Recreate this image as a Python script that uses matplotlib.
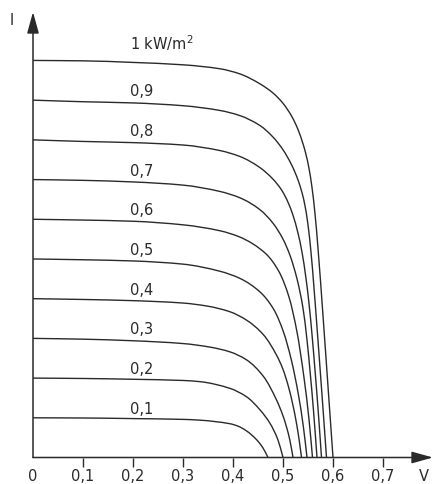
import numpy as np
import matplotlib
matplotlib.use('Agg')
import matplotlib.pyplot as plt
from matplotlib.path import Path
from matplotlib.patches import PathPatch

plt.rcParams.update({'font.family': 'DejaVu Sans', 'font.size': 10.5})

# I-V curves, V in volts, I in relative units (Isc at 1 kW/m2 = 10)
V_10 = [0, .1, .2, .3, .374, .414, .454, .48, .50, .518, .53, .54, .546, .552, .558, .564, .57, .58, .59, .60]
I_10 = [10, 9.99, 9.95, 9.89, 9.79, 9.66, 9.41, 9.18, 8.92, 8.58, 8.26, 7.90, 7.63, 7.28, 6.80, 6.14, 5.27, 3.57, 1.79, 0]
V_09 = [0, .1, .2, .3, .374, .414, .454, .48, .50, .518, .53, .538, .544, .55, .556, .562, .568, .574, .58, .587]
I_09 = [9.0, 8.96, 8.93, 8.86, 8.74, 8.61, 8.36, 8.07, 7.75, 7.35, 6.99, 6.67, 6.34, 5.86, 5.17, 4.27, 3.28, 2.26, 1.23, 0]
V_08 = [0, .1, .2, .3, .374, .414, .454, .48, .498, .51, .52, .53, .538, .546, .552, .558, .564, .57, .577]
I_08 = [8.0, 7.96, 7.93, 7.87, 7.73, 7.58, 7.30, 7.01, 6.72, 6.43, 6.10, 5.65, 5.17, 4.51, 3.88, 3.10, 2.20, 1.24, 0]
V_07 = [0, .1, .2, .3, .374, .414, .454, .48, .50, .514, .528, .54, .548, .555, .561, .568]
I_07 = [7.0, 6.98, 6.94, 6.86, 6.70, 6.54, 6.24, 5.90, 5.50, 5.09, 4.50, 3.76, 2.96, 2.05, 1.18, 0]
V_06 = [0, .1, .2, .3, .374, .414, .465, .492, .512, .528, .542, .552, .559]
I_06 = [6.0, 5.98, 5.95, 5.86, 5.71, 5.55, 5.14, 4.68, 4.04, 3.16, 2.01, 0.96, 0]
V_05 = [0, .1, .2, .3, .374, .414, .454, .481, .501, .517, .531, .541, .548]
I_05 = [5.0, 4.98, 4.95, 4.87, 4.69, 4.51, 4.17, 3.74, 3.16, 2.44, 1.57, 0.75, 0]
V_04 = [0, .1, .2, .3, .35, .394, .427, .461, .487, .50, .511, .52, .527, .533, .537]
I_04 = [4.0, 3.98, 3.95, 3.89, 3.81, 3.67, 3.46, 3.09, 2.58, 2.22, 1.78, 1.31, 0.86, 0.38, 0]
V_03 = [0, .1, .2, .3, .354, .394, .427, .461, .487, .50, .507, .514, .52]
I_03 = [3.0, 2.98, 2.94, 2.87, 2.78, 2.66, 2.46, 2.04, 1.45, 1.05, 0.77, 0.42, 0]
V_02 = [0, .1, .2, .3, .334, .394, .427, .454, .474, .49, .50]
I_02 = [2.0, 1.99, 1.97, 1.94, 1.91, 1.74, 1.53, 1.20, 0.86, 0.44, 0]
V_01 = [0, .1, .2, .3, .334, .394, .41, .427, .447, .46, .47]
I_01 = [1.0, 0.995, 0.98, 0.96, 0.94, 0.85, 0.79, 0.67, 0.45, 0.24, 0]

curves = [(V_10, I_10), (V_09, I_09), (V_08, I_08), (V_07, I_07), (V_06, I_06),
          (V_05, I_05), (V_04, I_04), (V_03, I_03), (V_02, I_02), (V_01, I_01)]
labels = ['0,9', '0,8', '0,7', '0,6', '0,5', '0,4', '0,3', '0,2', '0,1']

xticks = [0, 0.1, 0.2, 0.3, 0.4, 0.5, 0.6, 0.7]
xticklabels = ['0', '0,1', '0,2', '0,3', '0,4', '0,5', '0,6', '0,7']

ink = '#2a2a2a'


def smooth_path(v, i):
    # monotone cubic through the read points, drawn as bezier segments
    v = np.asarray(v, float)
    i = np.asarray(i, float)
    h = np.diff(v)
    d = np.diff(i) / h
    m = np.zeros_like(v)
    m[0], m[-1] = d[0], d[-1]
    for k in range(1, len(v) - 1):
        if d[k - 1] * d[k] <= 0:
            m[k] = 0
        else:
            w1 = 2 * h[k] + h[k - 1]
            w2 = h[k] + 2 * h[k - 1]
            m[k] = (w1 + w2) / (w1 / d[k - 1] + w2 / d[k])
    verts = [(v[0], i[0])]
    codes = [Path.MOVETO]
    for k in range(len(h)):
        verts += [(v[k] + h[k] / 3, i[k] + m[k] * h[k] / 3),
                  (v[k + 1] - h[k] / 3, i[k + 1] - m[k + 1] * h[k] / 3),
                  (v[k + 1], i[k + 1])]
        codes += [Path.CURVE4] * 3
    return Path(verts, codes)


fig = plt.figure(figsize=(4.33, 4.84), dpi=100)
ax = fig.add_axes([33 / 433, 26.5 / 484, 400 / 433, 445.5 / 484])
ax.set_xlim(0, 0.8)
ax.set_ylim(0, 11.22)

for v, i in curves:
    ax.add_patch(PathPatch(smooth_path(v, i), fill=False, edgecolor=ink, lw=1.0))

# curve labels
ax.text(0.194, I_10[0] + 0.26, '1 kW/m$^2$', color=ink, ha='left', va='baseline')
for lab, (v, i) in zip(labels, curves[1:]):
    ax.text(0.218, i[0] + 0.1, lab, color=ink, ha='center', va='baseline')

# axes with arrow heads
for s in ax.spines.values():
    s.set_visible(False)
arrow = dict(arrowstyle='-|>,head_length=1.3,head_width=0.36', color=ink, lw=1.1,
             shrinkA=0, shrinkB=0, mutation_scale=10)
ax.annotate('', xy=(0.8, 0), xytext=(0, 0), arrowprops=arrow, annotation_clip=False)
ax.annotate('', xy=(0, 11.22), xytext=(0, 0), arrowprops=arrow, annotation_clip=False)

ax.set_xticks(xticks)
ax.set_xticklabels(xticklabels, color=ink)
ax.set_yticks([])
ax.tick_params(axis='x', direction='out', length=6.5, width=1.0, color=ink, pad=1.5)
ax.xaxis.get_major_ticks()[0].tick1line.set_visible(False)

ax.annotate('V', xy=(0.782, 0), xytext=(0, -8), textcoords='offset points',
            color=ink, ha='center', va='top', annotation_clip=False)
ax.text(-0.042, 11.0, 'I', color=ink, ha='center', va='center', clip_on=False)

fig.savefig('out.png', dpi=100)
